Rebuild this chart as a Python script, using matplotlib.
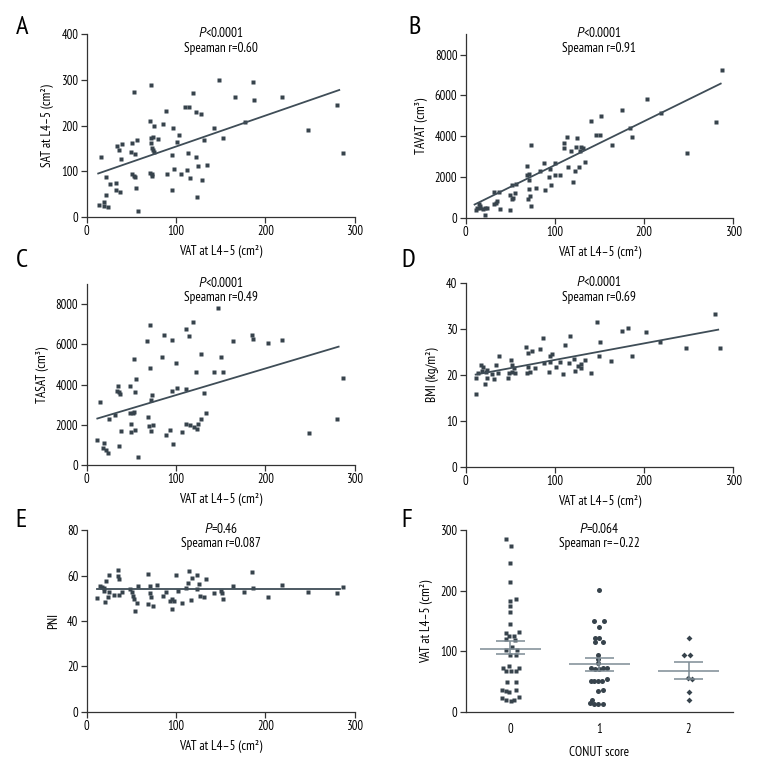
import numpy as np
import matplotlib
matplotlib.use("Agg")
import matplotlib.pyplot as plt

plt.rcParams["font.family"] = ["PT Sans Narrow", "Roboto Condensed", "DejaVu Sans"]
plt.rcParams["mathtext.fontset"] = "custom"
plt.rcParams["mathtext.it"] = "PT Sans:italic"
plt.rcParams["mathtext.rm"] = "PT Sans Narrow"

# ---- panel A: SAT vs VAT
vat_a = [15.6, 13.4, 19, 19.7, 24, 21.6, 22, 26.5, 33, 33, 37, 33.5, 39.5, 36, 38.4,
         50.7, 50, 53.7, 56, 53, 51, 53, 54, 55, 58, 71.6, 70.4, 70.4, 72.7, 73.4,
         72, 72, 74, 73.4, 74.5, 75, 75.7, 79.4, 85, 88.3, 89.8, 96, 97, 97.3, 95.4,
         101, 103, 106, 110, 115, 112, 113, 115.5, 119, 122.6, 122.6, 124.5, 123.7,
         127.8, 129, 131.6, 135, 142.7, 148.3, 152, 166, 176.7, 185.6, 187, 218,
         247.8, 280, 287]
sat_a = [131, 26, 33, 24, 21, 48, 88, 73, 75, 59, 54, 156, 159, 146, 127,
         162, 143, 137, 169, 273, 94, 90, 88, 63, 13, 289, 210, 97, 94, 90,
         173, 162, 175, 151, 147, 143, 200, 170, 203, 232, 94, 136, 195, 105, 58,
         164, 179, 94, 240, 240, 102, 140, 86, 272, 229, 132, 112, 43,
         226, 80, 168, 113, 194, 300, 172, 262, 208, 295, 256, 262,
         190, 246, 140]
fit_a_x = [13, 282.5]
fit_a_y = [95, 278]

# ---- panel B: TAVAT vs VAT
vat_b = [287, 281, 247.7, 218.5, 202.8, 186.3, 184.8, 175.5, 164, 152, 150.4, 146.6,
         140.7, 134, 131.3, 129, 128.3, 127.2, 125, 123.8, 122.3, 120.8, 118.6, 115.2,
         113.7, 110, 110, 106, 100.6, 99.9, 96, 94.7, 93.5, 88, 83.4, 88.7, 79, 73.7,
         73.7, 72.2, 70.7, 69.6, 71.5, 71, 68.8, 68.8, 56.9, 55, 53.5, 51.6, 51.6,
         49.4, 49.4, 37, 38.2, 35, 34, 32, 32, 24.3, 22, 21.3, 16.5, 15.7, 12.7, 12,
         15, 19]
tavat_b = [7270, 4716, 3166, 5145, 5837, 3958, 4419, 5293, 3562, 5013, 4040, 4040,
           4733, 2737, 3413, 3446, 3281, 2506, 3891, 3446, 2292, 1748, 3248, 2506,
           3974, 3397, 3677, 2111, 2094, 2704, 1600, 2375, 2012, 2704, 2276, 1336, 1468,
           3545, 561, 1072, 1402, 907, 2160, 1830, 2078, 2556, 1649, 1187, 940, 1600,
           923, 1088, 363, 1270, 412, 808, 726, 1270, 660, 478, 115, 495, 495, 594,
           478, 380, 660, 445]
fit_b_x = [10, 286]
fit_b_y = [643, 6580]

# ---- panel C: TASAT vs VAT
vat_c = [11.6, 14.9, 18.6, 20, 22, 24, 25, 32, 34.7, 34.3, 36, 37.6, 36, 38.4, 48.8,
         48.8, 49.6, 50, 52, 53, 52.5, 54, 54, 55, 57, 68, 69, 69.7, 70.8, 70.8, 71.6,
         72, 73, 73.8, 84.6, 86.8, 88.7, 93.5, 95.4, 95.4, 97, 100, 100.6, 106.6, 111,
         111, 111, 114.4, 116, 118.5, 120.4, 122, 123.7, 124.5, 127.8, 128.2, 131, 134,
         142, 146.5, 150, 152.4, 163.6, 184.5, 185.6, 203, 218, 248.6, 280, 287]
tasat_c = [1239, 3114, 854, 1071, 753, 569, 2300, 2494, 3917, 3666, 3632, 3549, 954,
           1691, 3950, 2594, 2042, 1624, 2594, 2645, 5256, 3632, 1724, 4302, 402, 6160,
           2377, 1942, 6980, 4821, 3231, 1674, 3465, 2009, 5390, 6478, 1507, 1758, 6244,
           3683, 1021, 5072, 3850, 1657, 6780, 3800, 2059, 6411, 1992, 7114, 1908, 4637,
           1791, 2059, 5541, 2310, 3582, 2578, 4620, 7817, 5357, 4654, 6177, 6462, 6294,
           6077, 6211, 1590, 2277, 4319]
fit_c_x = [12, 281.8]
fit_c_y = [2310, 5893]

# ---- panel D: BMI vs VAT
vat_d = [11.2, 11.6, 13.8, 17.2, 19.5, 18, 21.3, 22.4, 24.3, 24.3, 30, 31.8, 34.4, 36.7,
         37, 47, 48.6, 50.5, 51.6, 52.4, 53.9, 55.4, 67.7, 68.5, 69.6, 70.3, 72.2, 74.4,
         77.8, 83.4, 86.4, 87.5, 93.2, 94.7, 95, 96.5, 101, 105.5, 109.6, 111.9, 115.6,
         116.7, 122, 122.3, 126.4, 129, 129.4, 133.6, 141, 147, 150.8, 150, 163.5,
         175.5, 181.8, 186, 202, 217.4, 247.3, 279.5, 285]
bmi_d = [19.3, 15.9, 20.4, 22.1, 21.7, 20.8, 18.0, 20.7, 21.0, 19.3, 20.2, 19.1, 22.2,
         20.4, 24.1, 19.3, 20.4, 23.3, 22.1, 20.7, 21.5, 20.4, 26.2, 20.4, 24.9, 21.7,
         20.6, 25.2, 21.5, 25.7, 28.1, 22.7, 20.7, 22.9, 24.1, 24.6, 21.7, 22.8, 20.3,
         26.5, 22.6, 28.5, 23.5, 20.9, 22.0, 22.5, 21.6, 23.3, 20.4, 31.5, 27.3, 24.2,
         23.1, 29.5, 30.3, 24.1, 29.4, 27.1, 25.9, 33.3, 25.9]
fit_d_x = [11.2, 283.2]
fit_d_y = [20.1, 29.9]

# ---- panel E: PNI vs VAT
vat_e = [11.6, 14.9, 16.8, 19, 20, 21.2, 20.9, 24.6, 24.6, 24.2, 30.6, 34.7, 35, 35.8,
         36.5, 39.5, 48.8, 50.3, 51.8, 53, 54, 56, 57.4, 68.6, 69, 70.8, 71.2, 72.3,
         74.5, 78.3, 85.7, 88.7, 93.5, 95.4, 96, 97.7, 99.5, 102.5, 106.6, 111.4, 113.3,
         114.8, 116.3, 118, 123, 123.7, 125.2, 126.7, 130.8, 133.8, 142, 149.8, 152,
         151.3, 164, 175.5, 184.9, 185.6, 203, 218, 247.9, 279.5, 287]
pni_e = [50.3, 55.4, 55.1, 54.5, 53.2, 57.4, 48.4, 60.1, 52.7, 50.4, 51.6, 62.6, 59.9,
         58.5, 51.4, 52.6, 54.1, 52.7, 51.0, 49.8, 44.5, 47.8, 55.4, 60.8, 47.3, 55.2,
         52.3, 50.4, 46.6, 55.8, 51.0, 52.6, 48.9, 45.3, 49.5, 48.8, 60.2, 53.2, 47.8,
         54.5, 56.7, 62.1, 49.2, 59.0, 60.4, 53.9, 56.1, 51.1, 50.5, 58.5, 52.3, 53.0,
         49.8, 52.2, 55.4, 52.9, 61.5, 54.5, 50.7, 55.8, 52.9, 52.2, 55.1]
fit_e_x = [12, 283]
fit_e_y = [53.9, 53.9]

# ---- panel F: VAT by CONUT score
conut_0 = [-0.045, 0.008, 0.0, 0.0, 0.067, 0.0, -0.005, -0.005, -0.005, -0.045, 0.097,
           0.04, -0.01, -0.045, 0.056, 0.022, -0.045, 0.079, -0.005, 0.067, -0.011,
           -0.086, 0.097, -0.049, 0.007, 0.063, -0.041, 0.06, -0.093, -0.052, 0.067,
           -0.011, -0.093, -0.049, 0.004, 0.041, 0.093]
vat_0 = [284.6, 274.2, 245, 214.8, 185.7, 183.5, 174.2, 164.8, 145.6, 130.2, 131.9,
         125.8, 124.7, 120.9, 118.7, 107.7, 101.6, 102.2, 93.4, 93.4, 75.8, 73.1, 72,
         67, 67, 67, 50, 50, 35.7, 34.6, 35.7, 32.4, 22.5, 19.2, 18.7, 19.8, 24.7]
conut_1 = [0.993, 0.94, 1.049, 0.993, 0.951, 0.993, 0.948, 1.041, 0.989, 0.989, 0.985,
           0.903, 0.948, 0.993, 1.045, 1.09, 0.903, 0.944, 0.989, 1.034, 1.086, 0.985,
           1.041, 0.918, 0.936, 0.985, 1.041, 0.891]
vat_1 = [200.5, 150.5, 150.5, 140, 122.5, 122.5, 114.8, 114.8, 93.4, 86.8, 81.3, 72,
         70.9, 71.4, 72.5, 72.5, 50.5, 50.5, 50.5, 50.5, 53.8, 34.6, 36.3, 19.2, 13.2,
         13.2, 13.2, 14.3]
conut_2 = [2.0, 1.948, 2.019, 1.996, 2.041, 2.0, 2.0]
vat_2 = [121.4, 94.5, 94.5, 56, 54.4, 32.4, 19.2]
f_groups = [0, 1, 2]
f_mean = [103.3, 79.7, 67.6]
f_sem_hi = [117, 89.6, 83]
f_sem_lo = [95.6, 68.1, 55]

dot_color = "#37434c"
line_color = "#3f4d57"
err_color = "#7d8b94"
spine_color = "#333333"
xlab = "VAT at L4\u20135 (cm\u00b2)"
fs_txt = 9.5


def style_axes(ax):
    for side in ("top", "right"):
        ax.spines[side].set_visible(False)
    for side in ("left", "bottom"):
        ax.spines[side].set_color(spine_color)
        ax.spines[side].set_linewidth(0.9)
    ax.tick_params(direction="out", length=4, width=0.9, color=spine_color,
                   labelsize=9, pad=2)


def stats_text(ax, ptxt, rtxt):
    ax.text(0.5, 1.005, ptxt, transform=ax.transAxes, ha="center", va="center",
            fontsize=fs_txt)
    ax.text(0.5, 0.925, rtxt, transform=ax.transAxes, ha="center", va="center",
            fontsize=fs_txt)


def scatter_panel(rect, x, y, fx, fy, ylim, yticks, ylabel, ptxt, rtxt):
    ax = fig.add_axes(rect)
    ax.plot(x, y, ls="none", marker="s", ms=3, color=dot_color, mec="none")
    ax.plot(fx, fy, color=line_color, lw=1.3)
    ax.set_xlim(0, 300)
    ax.set_ylim(*ylim)
    ax.set_xticks([0, 100, 200, 300])
    ax.set_yticks(yticks)
    ax.set_xlabel(xlab, fontsize=fs_txt, labelpad=5)
    ax.set_ylabel(ylabel, fontsize=fs_txt, labelpad=5)
    style_axes(ax)
    stats_text(ax, ptxt, rtxt)
    return ax


fig = plt.figure(figsize=(7.8, 7.8), dpi=100)

scatter_panel([0.111, 0.722, 0.344, 0.234], vat_a, sat_a, fit_a_x, fit_a_y,
              (0, 400), [0, 100, 200, 300, 400], "SAT at L4\u20135 (cm\u00b2)",
              "$P$<0.0001", "Speaman r=0.60")
scatter_panel([0.597, 0.721, 0.343, 0.235], vat_b, tavat_b, fit_b_x, fit_b_y,
              (0, 9000), [0, 2000, 4000, 6000, 8000], "TAVAT (cm\u00b3)",
              "$P$<0.0001", "Speaman r=0.91")
scatter_panel([0.111, 0.404, 0.344, 0.2315], vat_c, tasat_c, fit_c_x, fit_c_y,
              (0, 9000), [0, 2000, 4000, 6000, 8000], "TASAT (cm\u00b3)",
              "$P$<0.0001", "Speaman r=0.49")
scatter_panel([0.597, 0.4017, 0.343, 0.235], vat_d, bmi_d, fit_d_x, fit_d_y,
              (0, 40), [0, 10, 20, 30, 40], "BMI (kg/m\u00b2)",
              "$P$<0.0001", "Speaman r=0.69")
scatter_panel([0.111, 0.0872, 0.344, 0.2333], vat_e, pni_e, fit_e_x, fit_e_y,
              (0, 80), [0, 20, 40, 60, 80], "PNI",
              "$P$=0.46", "Speaman r=0.087")

# panel F
ax = fig.add_axes([0.597, 0.0872, 0.343, 0.2333])
ax.plot(conut_0, vat_0, ls="none", marker="s", ms=3, color=dot_color, mec="none")
ax.plot(conut_1, vat_1, ls="none", marker="o", ms=3.6, color=dot_color, mec="none")
ax.plot(conut_2, vat_2, ls="none", marker="D", ms=3, color=dot_color, mec="none")
for g, m, hi, lo in zip(f_groups, f_mean, f_sem_hi, f_sem_lo):
    ax.hlines(m, g - 0.34, g + 0.34, color=err_color, lw=1.1)
    ax.hlines([hi, lo], g - 0.16, g + 0.16, color=err_color, lw=1.1)
    ax.vlines(g, lo, hi, color=err_color, lw=1.1)
ax.set_xlim(-0.5, 2.5)
ax.set_ylim(0, 300)
ax.set_xticks(f_groups)
ax.set_yticks([0, 100, 200, 300])
ax.set_xlabel("CONUT score", fontsize=fs_txt, labelpad=7)
ax.set_ylabel(xlab, fontsize=fs_txt, labelpad=5)
style_axes(ax)
ax.tick_params(axis="x", length=0, pad=8)
stats_text(ax, "$P$=0.064", "Speaman r=\u20130.22")

# panel letters
for letter, x, y in [("A", 0.02, 0.98), ("B", 0.524, 0.98),
                     ("C", 0.02, 0.681), ("D", 0.514, 0.681),
                     ("E", 0.02, 0.348), ("F", 0.514, 0.348)]:
    fig.text(x, y, letter, fontsize=19, ha="left", va="top")

fig.savefig("out.png", dpi=100)
